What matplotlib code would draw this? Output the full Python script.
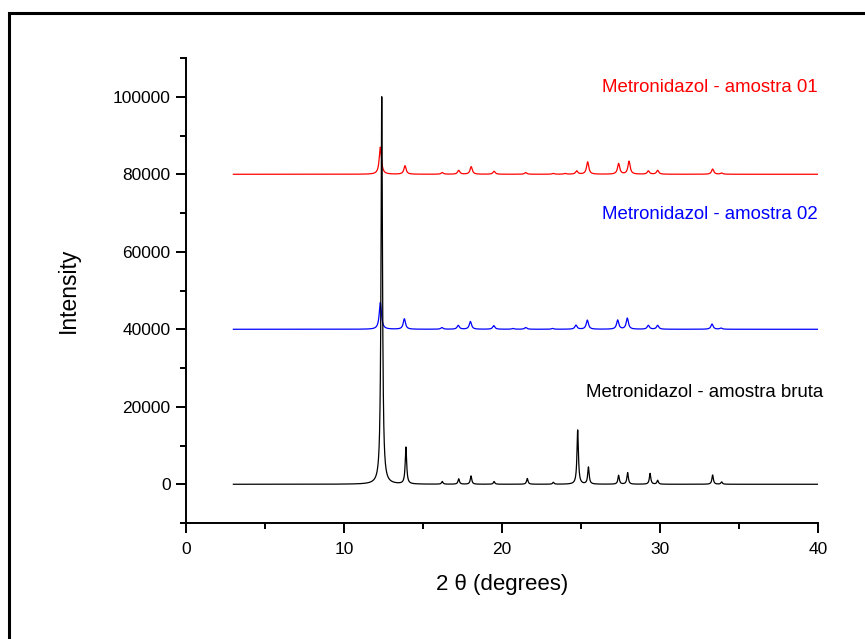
import numpy as np
import matplotlib
matplotlib.use("Agg")
import matplotlib.pyplot as plt
from matplotlib.patches import Rectangle

plt.rcParams['font.family'] = ['Liberation Sans', 'DejaVu Sans']

# ---- data: peak positions (2θ) and heights ----
bruta_pos = [12.39, 13.92, 16.22, 17.26, 18.04, 19.50, 21.60, 23.25, 24.79, 25.47,
             27.38, 27.95, 29.37, 29.85, 33.33, 33.90]
bruta_h = [100000, 9500, 700, 1400, 2150, 700, 1500, 500, 14000, 4400,
           2300, 3000, 2800, 1000, 2400, 600]
bruta_offset = 0

a01_pos = [12.30, 13.86, 16.22, 17.26, 18.05, 19.50, 21.50, 23.25, 24.00, 24.73,
           25.42, 27.38, 28.04, 29.26, 29.85, 33.33, 33.90]
a01_h = [7000, 2200, 430, 1000, 1950, 760, 430, 200, 200, 850,
         3200, 2750, 3350, 850, 1000, 1350, 300]
a01_offset = 80000

a02_pos = [12.30, 13.82, 16.20, 17.23, 18.00, 19.48, 20.70, 21.50, 23.20, 24.68,
           25.40, 27.32, 27.93, 29.26, 29.85, 33.29, 33.86]
a02_h = [6900, 2700, 430, 1000, 2000, 930, 200, 450, 200, 1050,
         2350, 2350, 2850, 1000, 1000, 1350, 300]
a02_offset = 40000

two_theta = np.linspace(3, 40, 3701)

labels = ["Metronidazol - amostra 01", "Metronidazol - amostra 02",
          "Metronidazol - amostra bruta"]
label_y = [102300, 69500, 23800]
colors = ["#ff0000", "#0000ff", "#000000"]


def pattern(pos, h, hw):
    y = np.zeros_like(two_theta)
    for p, a in zip(pos, h):
        y += a / (1.0 + ((two_theta - p) / hw) ** 2)
    return y


fig = plt.figure(figsize=(8.65, 6.39), dpi=100)
ax = fig.add_axes([0.215, 0.1815, 0.7307, 0.7277])

ax.plot(two_theta, a01_offset + pattern(a01_pos, a01_h, 0.085), color=colors[0], lw=0.9)
ax.plot(two_theta, a02_offset + pattern(a02_pos, a02_h, 0.085), color=colors[1], lw=0.9)
ax.plot(two_theta, bruta_offset + pattern(bruta_pos, bruta_h, 0.055), color=colors[2], lw=0.9)

for lab, yy, c, xx in zip(labels, label_y, colors, [40, 40, 40.3]):
    ax.text(xx, yy, lab, color=c, fontsize=13.4, ha='right', va='center')

ax.set_xlim(0, 40)
ax.set_ylim(-10000, 110000)
ax.set_xticks([0, 10, 20, 30, 40])
ax.set_xticks([5, 15, 25, 35], minor=True)
ax.set_yticks([0, 20000, 40000, 60000, 80000, 100000])
ax.set_yticks([-10000, 10000, 30000, 50000, 70000, 90000, 110000], minor=True)

for s in ['top', 'right']:
    ax.spines[s].set_visible(False)
for s in ['left', 'bottom']:
    ax.spines[s].set_linewidth(1.4)

ax.tick_params(axis='both', which='major', direction='out', length=7, width=1.4, labelsize=12.5)
ax.tick_params(axis='x', which='major', pad=7)
ax.tick_params(axis='y', which='major', pad=4)
ax.tick_params(which='minor', direction='out', length=4, width=1.4)

ax.set_xlabel("2 θ (degrees)", fontsize=16, labelpad=12)
ax.set_ylabel("Intensity", fontsize=16.5, labelpad=24)

fig.patches.append(Rectangle((9 / 865, -0.05), 1.0, 1 - 13 / 639 + 0.05,
                             transform=fig.transFigure, fill=False,
                             edgecolor='black', lw=2.2))

fig.savefig("out.png", dpi=100)
